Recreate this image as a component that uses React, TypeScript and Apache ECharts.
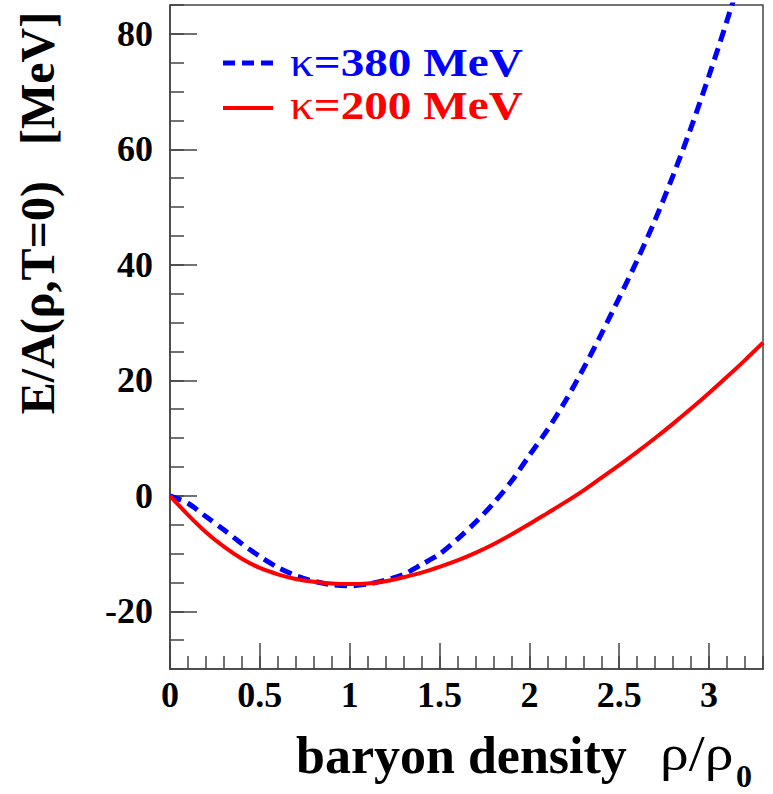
import React, { useEffect, useRef } from "react";
import * as echarts from "echarts";

const rho = [0, 0.1, 0.2, 0.3, 0.4, 0.5, 0.6, 0.7, 0.8, 0.9, 1.0, 1.1, 1.2, 1.3, 1.4, 1.5, 1.6, 1.7, 1.8, 1.9, 2.0, 2.1, 2.2, 2.3, 2.4, 2.5, 2.6, 2.7, 2.8, 2.9, 3.0, 3.1, 3.2, 3.3];
const kappa380 = [0, -1.3, -3.6, -5.9, -8.3, -10.5, -12.4, -13.8, -14.8, -15.4, -15.6, -15.3, -14.6, -13.6, -11.9, -10.1, -7.5, -4.6, -1.3, 2.5, 7.0, 11.4, 16.4, 22.0, 28.0, 34.3, 40.8, 47.8, 55.5, 63.8, 72.8, 82.3, 92.3];
const kappa200 = [0, -3.3, -6.3, -8.8, -10.9, -12.5, -13.6, -14.4, -14.9, -15.2, -15.3, -15.2, -14.8, -14.1, -13.3, -12.3, -11.2, -9.9, -8.4, -6.7, -4.9, -3.0, -1.1, 0.9, 3.1, 5.3, 7.6, 10.0, 12.5, 15.1, 17.8, 20.6, 23.5, 26.5];
const xMajorTicks = [0, 0.5, 1, 1.5, 2, 2.5, 3];
const yMajorTicks = [-20, 0, 20, 40, 60, 80];
const legendLabels = ["=380 MeV", "=200 MeV"];

const FONT = '"Liberation Serif", "Times New Roman", serif';
const AXIS_COLOR = "#444";

export default function App() {
  const ref = useRef<HTMLDivElement>(null);
  useEffect(() => {
    if (!ref.current) return;
    const chart = echarts.init(ref.current, null, { renderer: "svg" });
    const pairs = (ys: number[]) => ys.map((v, i) => [rho[i], v]);
    const legendText = (label: string, y: number, color: string) => ({
      type: "text", x: 290, y, scaleX: 1.18,
      style: {
        text: "{k|κ}{b|" + label + "}", fill: color,
        align: "left", verticalAlign: "middle", textAlign: "left", textVerticalAlign: "middle",
        rich: {
          k: { fontFamily: FONT, fontSize: 40, lineHeight: 40, fill: color, color },
          b: { fontFamily: FONT, fontSize: 40, lineHeight: 40, fontWeight: "bold", fill: color, color },
        },
      },
    });
    chart.setOption({
      animation: false,
      backgroundColor: "#fff",
      grid: {
        left: 170, top: 5, right: 10, bottom: 125,
        show: true, borderColor: AXIS_COLOR, borderWidth: 1.5, backgroundColor: "transparent",
      },
      xAxis: [
        {
          type: "value", min: 0, max: 3.3, position: "bottom",
          axisLine: { show: true, onZero: false, lineStyle: { color: AXIS_COLOR, width: 1.5 } },
          axisTick: { show: true, inside: true, length: 26, customValues: xMajorTicks, lineStyle: { color: AXIS_COLOR, width: 1.5 } },
          axisLabel: {
            show: true, customValues: xMajorTicks, margin: 8,
            fontFamily: FONT, fontWeight: "bold", fontSize: 36, color: "#000",
          },
          splitLine: { show: false },
        },
        {
          type: "value", min: 0, max: 3.3, interval: 0.1, position: "bottom",
          axisLine: { show: false, onZero: false },
          axisTick: { show: true, inside: true, length: 13, lineStyle: { color: AXIS_COLOR, width: 1.5 } },
          axisLabel: { show: false },
          splitLine: { show: false },
        },
      ],
      yAxis: [
        {
          type: "value", min: -30, max: 85, position: "left",
          axisLine: { show: true, onZero: false, lineStyle: { color: AXIS_COLOR, width: 1.5 } },
          axisTick: { show: true, inside: true, length: 27, customValues: yMajorTicks, lineStyle: { color: AXIS_COLOR, width: 1.5 } },
          axisLabel: {
            show: true, customValues: yMajorTicks, margin: 17,
            fontFamily: FONT, fontWeight: "bold", fontSize: 36, color: "#000",
          },
          splitLine: { show: false },
        },
        {
          type: "value", min: -30, max: 85, interval: 5, position: "left",
          axisLine: { show: false, onZero: false },
          axisTick: { show: true, inside: true, length: 14, lineStyle: { color: AXIS_COLOR, width: 1.5 } },
          axisLabel: { show: false },
          splitLine: { show: false },
        },
      ],
      series: [
        {
          name: "κ=380 MeV", type: "line", xAxisIndex: 0, yAxisIndex: 0,
          data: pairs(kappa380), showSymbol: false, smooth: 0.3, clip: true,
          lineStyle: { color: "#0000ff", width: 5, type: [12, 7] },
        },
        {
          name: "κ=200 MeV", type: "line", xAxisIndex: 0, yAxisIndex: 0,
          data: pairs(kappa200), showSymbol: false, smooth: 0.3, clip: true,
          lineStyle: { color: "#ff0000", width: 4 },
        },
      ],
      graphic: [
        {
          type: "text", x: 37, y: 213, rotation: Math.PI / 2,
          style: {
            text: "E/A(ρ,T=0)   [MeV]", font: `bold 48px ${FONT}`, fill: "#000",
            align: "center", verticalAlign: "middle", textAlign: "center", textVerticalAlign: "middle",
          },
        },
        {
          type: "text", x: 296, y: 755,
          style: {
            text: "baryon density", font: `bold 52px ${FONT}`, fill: "#000",
            align: "left", verticalAlign: "middle", textAlign: "left", textVerticalAlign: "middle",
          },
        },
        {
          type: "text", x: 660, y: 753, scaleX: 1.15,
          style: {
            text: "ρ/ρ", font: `50px ${FONT}`, fill: "#000",
            align: "left", verticalAlign: "middle", textAlign: "left", textVerticalAlign: "middle",
          },
        },
        {
          type: "text", x: 736, y: 776,
          style: {
            text: "0", font: `bold 32px ${FONT}`, fill: "#000",
            align: "left", verticalAlign: "middle", textAlign: "left", textVerticalAlign: "middle",
          },
        },
        {
          type: "line", shape: { x1: 223, y1: 63, x2: 273, y2: 63 },
          style: { stroke: "#0000ff", lineWidth: 5, lineDash: [12, 7] },
        },
        {
          type: "line", shape: { x1: 223, y1: 108, x2: 273, y2: 108 },
          style: { stroke: "#ff0000", lineWidth: 4 },
        },
        legendText(legendLabels[0], 62, "#0000ff"),
        legendText(legendLabels[1], 105, "#ff0000"),
      ],
    });
    return () => chart.dispose();
  }, []);
  return (
    <div
      ref={ref}
      style={{ position: "fixed", left: 0, top: 0, width: 773, height: 794, background: "#fff" }}
    />
  );
}
